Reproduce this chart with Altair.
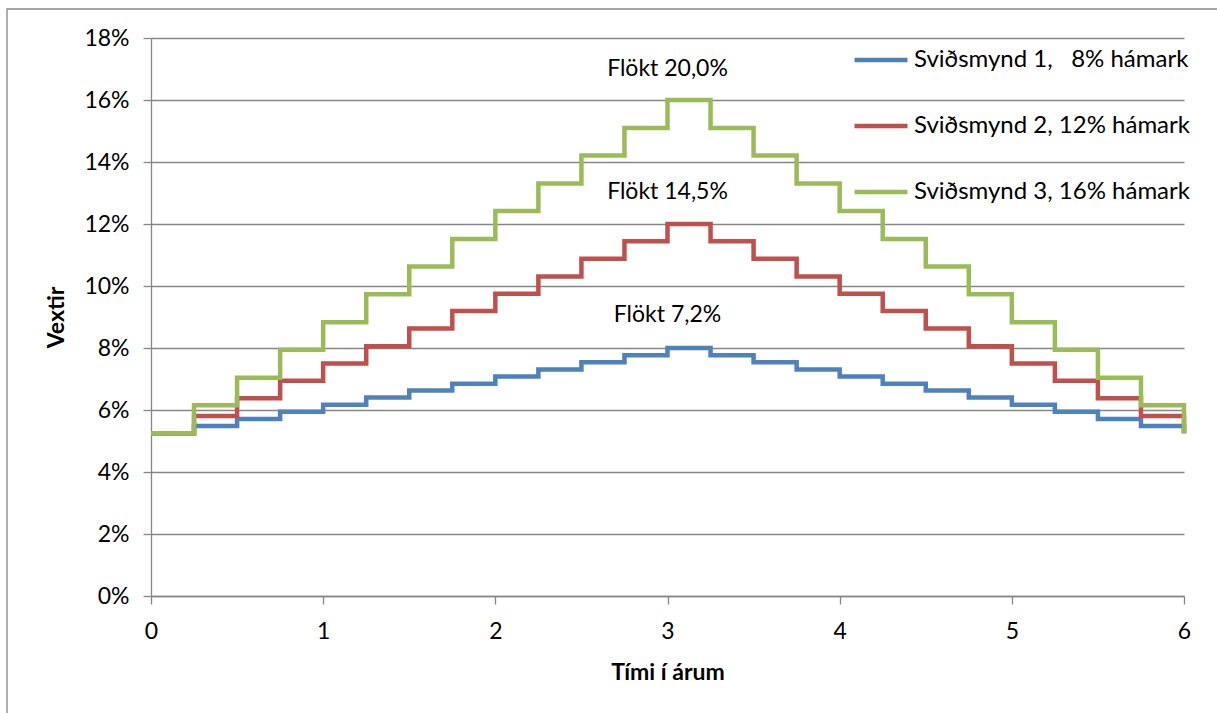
import altair as alt
import pandas as pd

# Time in years (step start points)
time = [0, 0.25, 0.5, 0.75, 1.0, 1.25, 1.5, 1.75, 2.0, 2.25, 2.5, 2.75, 3.0,
        3.25, 3.5, 3.75, 4.0, 4.25, 4.5, 4.75, 5.0, 5.25, 5.5, 5.75, 6.0]

s1 = [5.25, 5.48, 5.71, 5.94, 6.17, 6.40, 6.63, 6.85, 7.08, 7.31, 7.54, 7.77, 8.00,
      7.77, 7.54, 7.31, 7.08, 6.85, 6.63, 6.40, 6.17, 5.94, 5.71, 5.48, 5.25]
s2 = [5.25, 5.81, 6.38, 6.94, 7.50, 8.06, 8.63, 9.19, 9.75, 10.31, 10.88, 11.44, 12.00,
      11.44, 10.88, 10.31, 9.75, 9.19, 8.63, 8.06, 7.50, 6.94, 6.38, 5.81, 5.25]
s3 = [5.25, 6.15, 7.04, 7.94, 8.83, 9.73, 10.63, 11.52, 12.42, 13.31, 14.21, 15.10, 16.00,
      15.10, 14.21, 13.31, 12.42, 11.52, 10.63, 9.73, 8.83, 7.94, 7.04, 6.15, 5.25]

series_names = ["Sviðsmynd 1,\u00a0\u00a0\u00a08% hámark",
                "Sviðsmynd 2, 12% hámark",
                "Sviðsmynd 3, 16% hámark"]
series_colors = ["#4F81BD", "#C0504D", "#9BBB59"]

ann_text = ["Flökt 20,0%", "Flökt 14,5%", "Flökt 7,2%"]
ann_x = [3.0, 3.0, 3.0]
ann_y = [17.0, 13.03, 9.05]

y_ticks = [0, 2, 4, 6, 8, 10, 12, 14, 16, 18]
x_ticks = [0, 1, 2, 3, 4, 5, 6]

FONT = "Lato"
GREY = "#868686"

rows = []
for name, vals in zip(series_names, [s1, s2, s3]):
    for t, v in zip(time, vals):
        rows.append({"t": t, "v": v, "s": name})
df = pd.DataFrame(rows)
ann = pd.DataFrame({"x": ann_x, "y": ann_y, "txt": ann_text})

xscale = alt.Scale(domain=[0, 6], nice=False)
yscale = alt.Scale(domain=[0, 18], nice=False)

border = alt.Chart(alt.Data(values=[{}])).mark_rect(
    fill=None, stroke=GREY, strokeWidth=1.3
).encode(
    x=alt.value(-144), x2=alt.value(1300), y=alt.value(-29), y2=alt.value(900)
)

lines = alt.Chart(df).mark_line(interpolate="step-after", strokeWidth=4.5).encode(
    x=alt.X("t:Q", scale=xscale,
            axis=alt.Axis(values=x_ticks, title="Tími í árum", grid=False, format="d",
                          domain=True, domainColor=GREY, domainWidth=1.3,
                          ticks=True, tickColor=GREY, tickSize=8, tickWidth=1.3,
                          labelFontSize=23, labelFont=FONT, labelColor="black",
                          labelPadding=16, labelFlush=False,
                          titleFont=FONT, titleFontSize=23, titleFontWeight="bold",
                          titleColor="black", titlePadding=18)),
    y=alt.Y("v:Q", scale=yscale,
            axis=alt.Axis(values=y_ticks, title="Vextir",
                          labelExpr="datum.value + '%'",
                          grid=True, gridColor=GREY, gridWidth=1.3,
                          domain=True, domainColor=GREY, domainWidth=1.3,
                          ticks=True, tickColor=GREY, tickSize=8, tickWidth=1.3,
                          labelFontSize=23, labelFont=FONT, labelColor="black",
                          labelPadding=14,
                          titleFont=FONT, titleFontSize=23, titleFontWeight="bold",
                          titleColor="black", titlePadding=15)),
    color=alt.Color("s:N",
                    scale=alt.Scale(domain=series_names, range=series_colors),
                    legend=alt.Legend(title=None, orient="none", legendX=701, legendY=-7,
                                      symbolType="stroke", symbolSize=2809,
                                      symbolStrokeWidth=4.5, labelFont=FONT,
                                      labelFontSize=24, labelColor="black",
                                      labelLimit=0,
                                      labelOffset=4, rowPadding=25, padding=0)),
    order=alt.Order("t:Q"),
)

texts = alt.Chart(ann).mark_text(font=FONT, fontSize=23, color="black",
                                 align="center", baseline="middle").encode(
    x=alt.X("x:Q", scale=xscale), y=alt.Y("y:Q", scale=yscale), text="txt:N"
)

chart = alt.layer(border, lines, texts).properties(
    width=1033, height=558,
    autosize=alt.AutoSizeParams(type="none"),
    padding={"left": 151, "top": 38, "right": 33, "bottom": 117},
    background="white",
).configure_view(stroke=None)

chart.save("out.html", embed_options={"renderer": "svg", "actions": False})
